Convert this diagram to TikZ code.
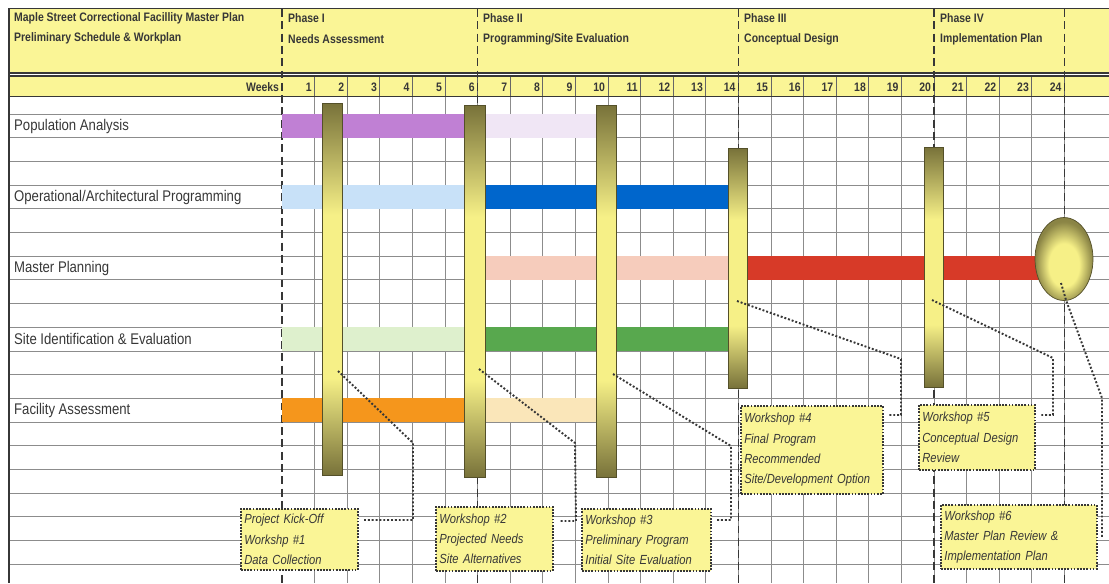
\documentclass[tikz,border=0pt]{standalone}
\usepackage{fontspec}
\setmainfont{Liberation Sans}[FakeStretch=0.85]
\usepackage{tikz}
\usetikzlibrary{shapes.geometric}
\definecolor{hdryellow}{RGB}{250, 245, 150}
\definecolor{msdark}{RGB}{120, 114, 58}
\definecolor{mslight}{RGB}{246, 240, 135}
\definecolor{popdark}{RGB}{192, 128, 212}
\definecolor{poplight}{RGB}{240, 230, 245}
\definecolor{progdark}{RGB}{0, 102, 204}
\definecolor{proglight}{RGB}{200, 225, 248}
\definecolor{plandark}{RGB}{215, 58, 40}
\definecolor{planlight}{RGB}{246, 204, 188}
\definecolor{sitedark}{RGB}{88, 168, 78}
\definecolor{sitelight}{RGB}{222, 240, 205}
\definecolor{facdark}{RGB}{245, 150, 28}
\definecolor{faclight}{RGB}{250, 230, 185}
\definecolor{ink}{RGB}{55, 55, 55}
\pgfdeclareverticalshading{msbar}{100bp}{color(0bp)=(msdark); color(25bp)=(msdark);
  color(38bp)=(mslight); color(60bp)=(mslight); color(75bp)=(msdark); color(100bp)=(msdark)}
\pgfdeclareradialshading{msball}{\pgfpoint{0bp}{-5bp}}{color(0bp)=(mslight); color(13bp)=(mslight);
  color(25bp)=(msdark!85!mslight); color(50bp)=(msdark)}

\begin{document}
\begin{tikzpicture}[x=0.02cm, y=-0.02cm,
  grid/.style={black!45, line width=0.5pt},
  phase/.style={ink, line width=0.9pt, dash pattern=on 4.5pt off 2.5pt},
  tasklabel/.style={anchor=west, text=ink, font=\fontsize{8.8}{10}\selectfont},
  hdrtext/.style={anchor=west, text=ink, font=\bfseries\fontsize{7}{8}\selectfont},
  wk/.style={anchor=east, text=ink, inner sep=1.5pt, font=\bfseries\fontsize{7}{8}\selectfont},
  milestone/.style={draw=msdark!70!black, line width=0.4pt, inner sep=0pt, shading=msbar},
  workshop/.style={draw=ink, fill=hdryellow, line width=1pt, dash pattern=on 1pt off 0.8pt,
    anchor=north west, align=left, inner xsep=2pt, inner ysep=1pt, text=ink,
    font=\itshape\fontsize{7.5}{11.5}\selectfont},
  linkline/.style={ink, line width=1.1pt, dash pattern=on 1.1pt off 1.1pt, shorten >=3pt}]

\useasboundingbox (0,0) rectangle (1109,583);

\fill[hdryellow] (9,9) rectangle (1109,73);
\fill[hdryellow] (9,76) rectangle (1109,96);

\foreach \k in {0,...,19}
  \draw[grid] (9,{114+23.7*\k}) -- (1109,{114+23.7*\k});
\foreach \k in {1,...,24} {
  \draw[grid] ({282+32.6*\k},96) -- ({282+32.6*\k},583);
  \draw[black!60, line width=0.5pt] ({282+32.6*\k},76) -- ({282+32.6*\k},96);
  \node[wk] (w\k) at ({282+32.6*\k},87) {\k};
}

\draw[ink, line width=1pt] (9,8.5) -- (1109,8.5);
\draw[ink, line width=0.7pt] (9,73) -- (1109,73) (9,76) -- (1109,76);
\draw[ink, line width=1pt] (9,96.5) -- (1109,96.5);
\draw[ink, line width=1.2pt] (9,8) -- (9,583);

\foreach \k in {0,6,14,20,24}
  \draw[phase] ({282+32.6*\k},9) -- ({282+32.6*\k},583);

\node[hdrtext] (title) at (8,18) {Maple Street Correctional Facillity Master Plan};
\node[hdrtext] (subtitle) at (8,38) {Preliminary Schedule \& Workplan};
\node[hdrtext] (ph1) at (282,18) {Phase I};
\node[hdrtext] (ph1b) at (282,39) {Needs Assessment};
\node[hdrtext] (ph2) at (477,18) {Phase II};
\node[hdrtext] (ph2b) at (477,39) {Programming/Site Evaluation};
\node[hdrtext] (ph3) at (738,18) {Phase III};
\node[hdrtext] (ph3b) at (738,39) {Conceptual Design};
\node[hdrtext] (ph4) at (934,18) {Phase IV};
\node[hdrtext] (ph4b) at (934,39) {Implementation Plan};
\node[wk, anchor=east] (weeks) at (282,87) {Weeks};

\node[tasklabel] (pop) at (8,126) {Population Analysis};
\node[tasklabel] (prog) at (8,197) {Operational/Architectural Programming};
\node[tasklabel] (plan) at (8,268) {Master Planning};
\node[tasklabel] (site) at (8,339) {Site Identification \& Evaluation};
\node[tasklabel] (fac) at (8,410) {Facility Assessment};

\fill[popdark] (282,114) rectangle (474,137.7);
\fill[poplight] (474,114) rectangle (606,137.7);
\fill[proglight] (282,185.1) rectangle (474,208.8);
\fill[progdark] (474,185.1) rectangle (738,208.8);
\fill[planlight] (484,256.2) rectangle (738,279.9);
\fill[plandark] (738,256.2) rectangle (1045,279.9);
\fill[sitelight] (282,327.3) rectangle (474,351);
\fill[sitedark] (474,327.3) rectangle (738,351);
\fill[facdark] (282,398.4) rectangle (474,422.1);
\fill[faclight] (474,398.4) rectangle (606,422.1);

\node[milestone, minimum width=0.4cm, minimum height=7.44cm] (ms1) at (332,289) {};
\node[milestone, minimum width=0.42cm, minimum height=7.44cm] (ms2) at (474.5,291) {};
\node[milestone, minimum width=0.4cm, minimum height=7.44cm] (ms3) at (606,291) {};
\node[milestone, minimum width=0.38cm, minimum height=4.8cm] (ms4) at (737.5,268) {};
\node[milestone, minimum width=0.38cm, minimum height=4.8cm] (ms5) at (933.5,267) {};
\node[ellipse, draw=msdark!70!black, line width=0.4pt, inner sep=0pt, shading=msball,
  minimum width=1.16cm, minimum height=1.66cm] (ms6) at (1064,259) {};

\node[workshop, text width=2.2cm, minimum height=1.22cm] (ws1) at (240,508)
  {Project Kick-Off\\Workshp \#1\\Data Collection};
\node[workshop, text width=2.2cm, minimum height=1.28cm] (ws2) at (435,506)
  {Workshop \#2\\Projected Needs\\Site Alternatives};
\node[workshop, text width=2.44cm, minimum height=1.24cm] (ws3) at (581,508)
  {Workshop \#3\\Preliminary Program\\Initial Site Evaluation};
\node[workshop, text width=2.7cm, minimum height=1.76cm] (ws4) at (740,405)
  {Workshop \#4\\Final Program\\Recommended\\Site/Development Option};
\node[workshop, text width=2.18cm, minimum height=1.3cm] (ws5) at (918,404)
  {Workshop \#5\\Conceptual Design\\Review};
\node[workshop, text width=2.98cm, minimum height=1.28cm] (ws6) at (940,504)
  {Workshop \#6\\Master Plan Review \&\\Implementation Plan};

\coordinate (c1) at (338,371);
\coordinate (c2) at (479,369);
\coordinate (c3) at (613,374);
\coordinate (c4) at (737,301);
\coordinate (c5) at (932,300);
\coordinate (c6) at (1061,283);

\draw[linkline] (c1) -- (413,443) -- (413,520) -- (ws1.east |- 0,520);
\draw[linkline] (c2) -- (575,443) -- (576,521) -- (ws2.east |- 0,521);
\draw[linkline] (c3) -- (731,446) -- (731,520) -- (ws3.east |- 0,520);
\draw[linkline] (c4) -- (901,359) -- (901,415) -- (ws4.east |- 0,415);
\draw[linkline] (c5) -- (1053,358) -- (1053,415) -- (ws5.east |- 0,415);
\draw[linkline] (c6) -- (1066,300) -- (1102,398) |- (ws6.east);
\end{tikzpicture}
\end{document}
